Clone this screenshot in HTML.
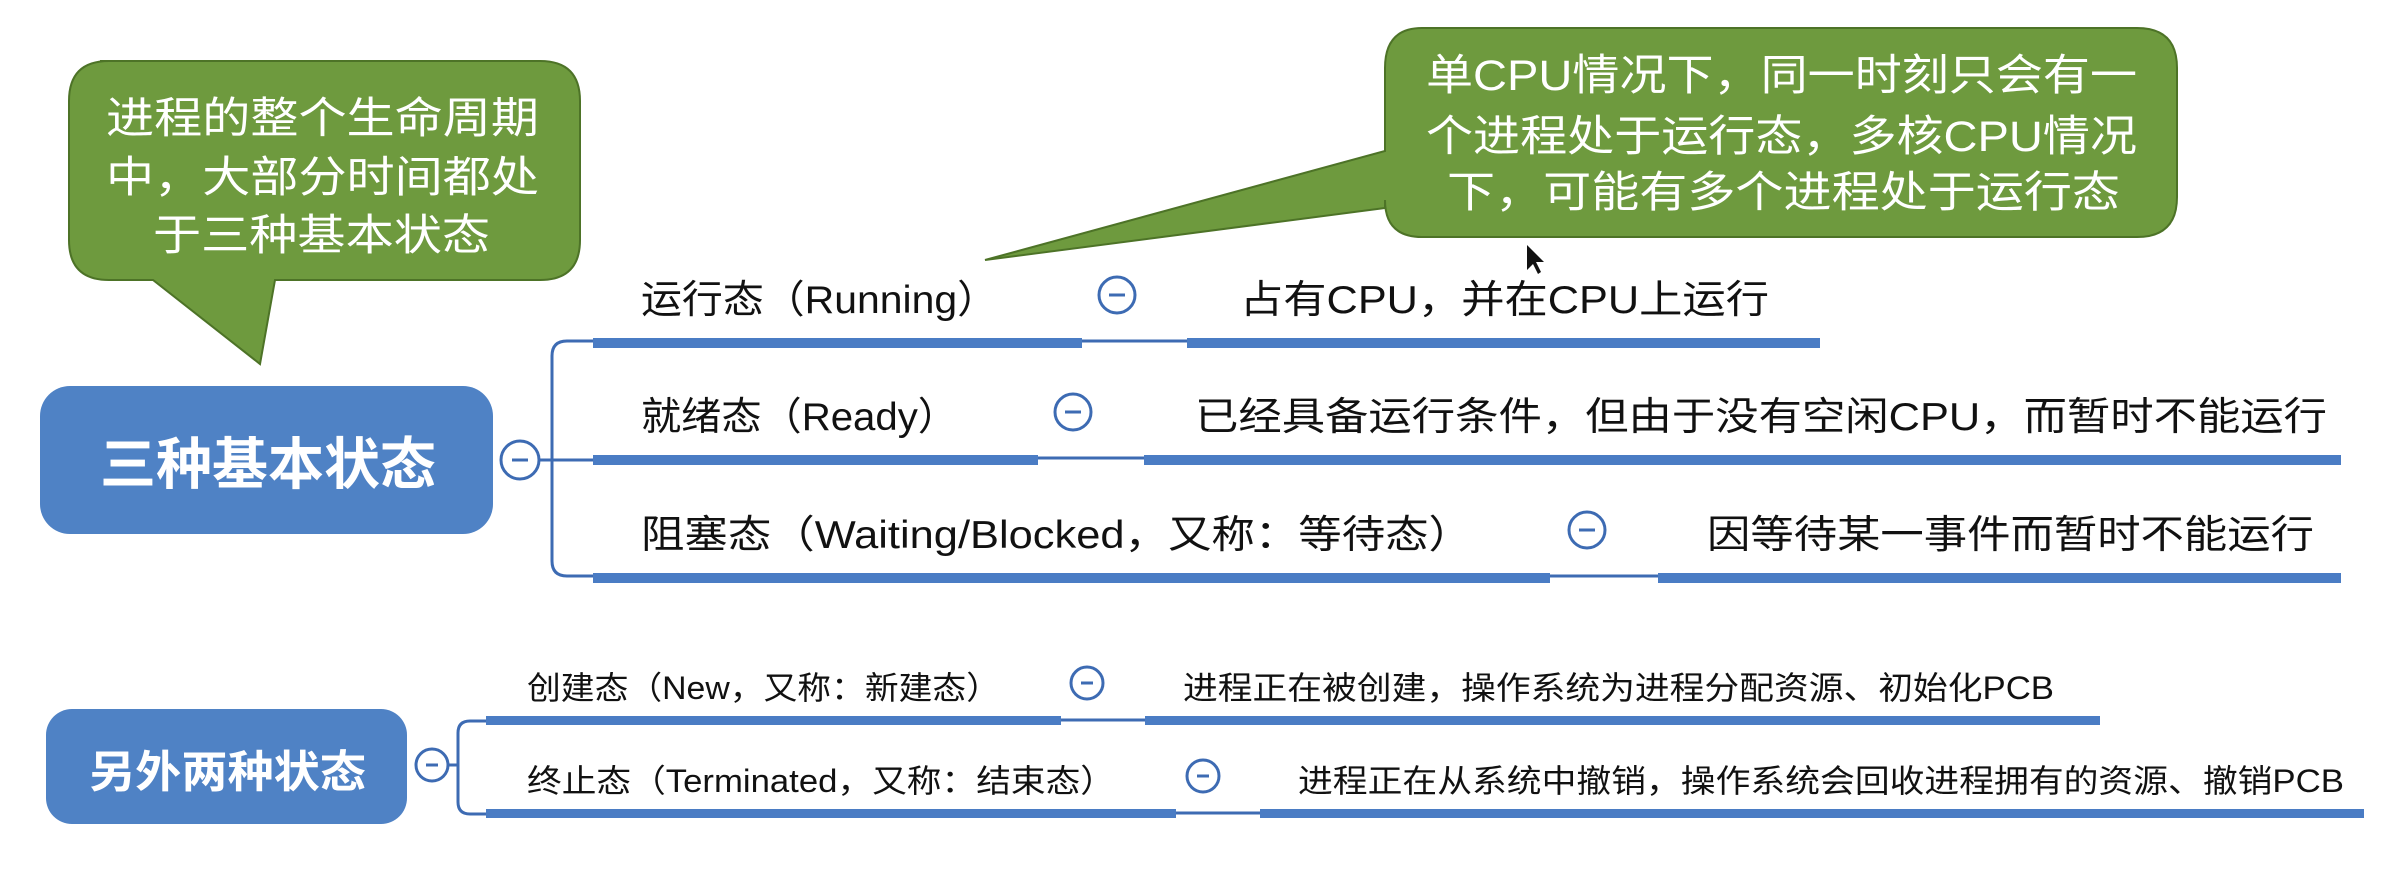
<!DOCTYPE html>
<html><head><meta charset="utf-8"><style>
html,body{margin:0;padding:0;background:#fff;}
svg{display:block;}
text{font-family:"Liberation Sans","Noto Sans CJK SC",sans-serif;}
</style></head><body>
<svg width="2395" height="871" viewBox="0 0 2395 871" xmlns="http://www.w3.org/2000/svg">
<!-- Bubble 1 -->
<path d="M100,61 H540 Q580,61 580,101 V240 Q580,280 540,280 H275 L260,364 L153,280 H109 Q69,280 69,240 V101 Q69,61 109,61 Z" fill="#6e9a3e" stroke="#4d7327" stroke-width="2"/>
<g fill="#fff" font-size="43">
<text x="106" y="133" textLength="433" lengthAdjust="spacingAndGlyphs">进程的整个生命周期</text>
<text x="106" y="192" textLength="433" lengthAdjust="spacingAndGlyphs">中，大部分时间都处</text>
<text x="153" y="250" textLength="337" lengthAdjust="spacingAndGlyphs">于三种基本状态</text>
</g>
<!-- Bubble 2 -->
<path d="M1422,28 H2137 Q2177,28 2177,68 V197 Q2177,237 2137,237 H1422 Q1385,237 1385,200 V208 L985,260 L1385,151 V68 Q1385,28 1422,28 Z" fill="#6e9a3e" stroke="#4d7327" stroke-width="2"/>
<g fill="#fff" font-size="43">
<text x="1426" y="90" textLength="711" lengthAdjust="spacingAndGlyphs">单CPU情况下，同一时刻只会有一</text>
<text x="1426" y="151" textLength="711" lengthAdjust="spacingAndGlyphs">个进程处于运行态，多核CPU情况</text>
<text x="1447" y="207" textLength="673" lengthAdjust="spacingAndGlyphs">下，可能有多个进程处于运行态</text>
</g>
<!-- cursor -->
<path d="M1527,245 L1527,270 L1533,264 L1538,274 L1541,272 L1536,262 L1544,262 Z" fill="#111"/>
<!-- Main box 1 -->
<rect x="40" y="386" width="453" height="148" rx="30" fill="#4f82c5"/>
<text x="100" y="484" font-size="56" font-weight="bold" fill="#fff" textLength="336" lengthAdjust="spacingAndGlyphs">三种基本状态</text>
<!-- connector + bracket -->
<g fill="none" stroke="#3d6bb3" stroke-width="3">
<line x1="539" y1="460" x2="593" y2="460"/>
<path d="M593,341 H567 Q552,341 552,356 V561 Q552,576 567,576 H593"/>
</g>
<g fill="#4a7cc4">
<rect x="593" y="338" width="489" height="10"/><rect x="1187" y="338" width="633" height="10"/>
<rect x="593" y="455" width="445" height="10"/><rect x="1144" y="455" width="1197" height="10"/>
<rect x="593" y="573" width="957" height="10"/><rect x="1658" y="573" width="683" height="10"/>
</g>
<g stroke="#3d6bb3" stroke-width="3">
<line x1="1082" y1="341" x2="1187" y2="341"/>
<line x1="1038" y1="458" x2="1144" y2="458"/>
<line x1="1550" y1="576" x2="1658" y2="576"/>
</g>
<g fill="#111" font-size="39">
<text x="641" y="313" textLength="357" lengthAdjust="spacingAndGlyphs">运行态（Running）</text>
<text x="641" y="430" textLength="317" lengthAdjust="spacingAndGlyphs">就绪态（Ready）</text>
<text x="641" y="548" textLength="831" lengthAdjust="spacingAndGlyphs">阻塞态（Waiting/Blocked，又称：等待态）</text>
<text x="1240" y="313" textLength="529" lengthAdjust="spacingAndGlyphs">占有CPU，并在CPU上运行</text>
<text x="1195" y="430" textLength="1132" lengthAdjust="spacingAndGlyphs">已经具备运行条件，但由于没有空闲CPU，而暂时不能运行</text>
<text x="1707" y="548" textLength="607" lengthAdjust="spacingAndGlyphs">因等待某一事件而暂时不能运行</text>
</g>
<g fill="#fff" stroke="#3d6bb3" stroke-width="3">
<circle cx="520" cy="460" r="19"/>
<circle cx="1117" cy="295" r="18"/>
<circle cx="1073" cy="412" r="18"/>
<circle cx="1587" cy="530" r="18"/>
<circle cx="432" cy="765" r="16"/>
<circle cx="1087" cy="683" r="16"/>
<circle cx="1203" cy="776" r="16"/>
</g>
<g stroke="#3d6bb3" stroke-width="3">
<line x1="512" y1="460" x2="528" y2="460"/>
<line x1="1109" y1="295" x2="1125" y2="295"/>
<line x1="1065" y1="412" x2="1081" y2="412"/>
<line x1="1579" y1="530" x2="1595" y2="530"/>
<line x1="426" y1="765" x2="438" y2="765"/>
<line x1="1081" y1="683" x2="1093" y2="683"/>
<line x1="1197" y1="776" x2="1209" y2="776"/>
</g>
<!-- Box 2 -->
<rect x="46" y="709" width="361" height="115" rx="26" fill="#4f82c5"/>
<text x="89" y="787" font-size="44" font-weight="bold" fill="#fff" textLength="277" lengthAdjust="spacingAndGlyphs">另外两种状态</text>
<g fill="none" stroke="#3d6bb3" stroke-width="3">
<line x1="448" y1="765" x2="458" y2="765"/>
<path d="M486,721 H470 Q458,721 458,733 V802 Q458,814 470,814 H486"/>
<line x1="1061" y1="720" x2="1145" y2="720"/>
<line x1="1176" y1="813" x2="1260" y2="813"/>
</g>
<g fill="#4a7cc4">
<rect x="486" y="716" width="575" height="9"/><rect x="1145" y="716" width="955" height="9"/>
<rect x="486" y="809" width="690" height="9"/><rect x="1260" y="809" width="1104" height="9"/>
</g>
<g fill="#111" font-size="32">
<text x="527" y="699" textLength="473" lengthAdjust="spacingAndGlyphs">创建态（New，又称：新建态）</text>
<text x="1183" y="699" textLength="871" lengthAdjust="spacingAndGlyphs">进程正在被创建，操作系统为进程分配资源、初始化PCB</text>
<text x="527" y="792" textLength="588" lengthAdjust="spacingAndGlyphs">终止态（Terminated，又称：结束态）</text>
<text x="1298" y="792" textLength="1046" lengthAdjust="spacingAndGlyphs">进程正在从系统中撤销，操作系统会回收进程拥有的资源、撤销PCB</text>
</g>
</svg>
</body></html>
